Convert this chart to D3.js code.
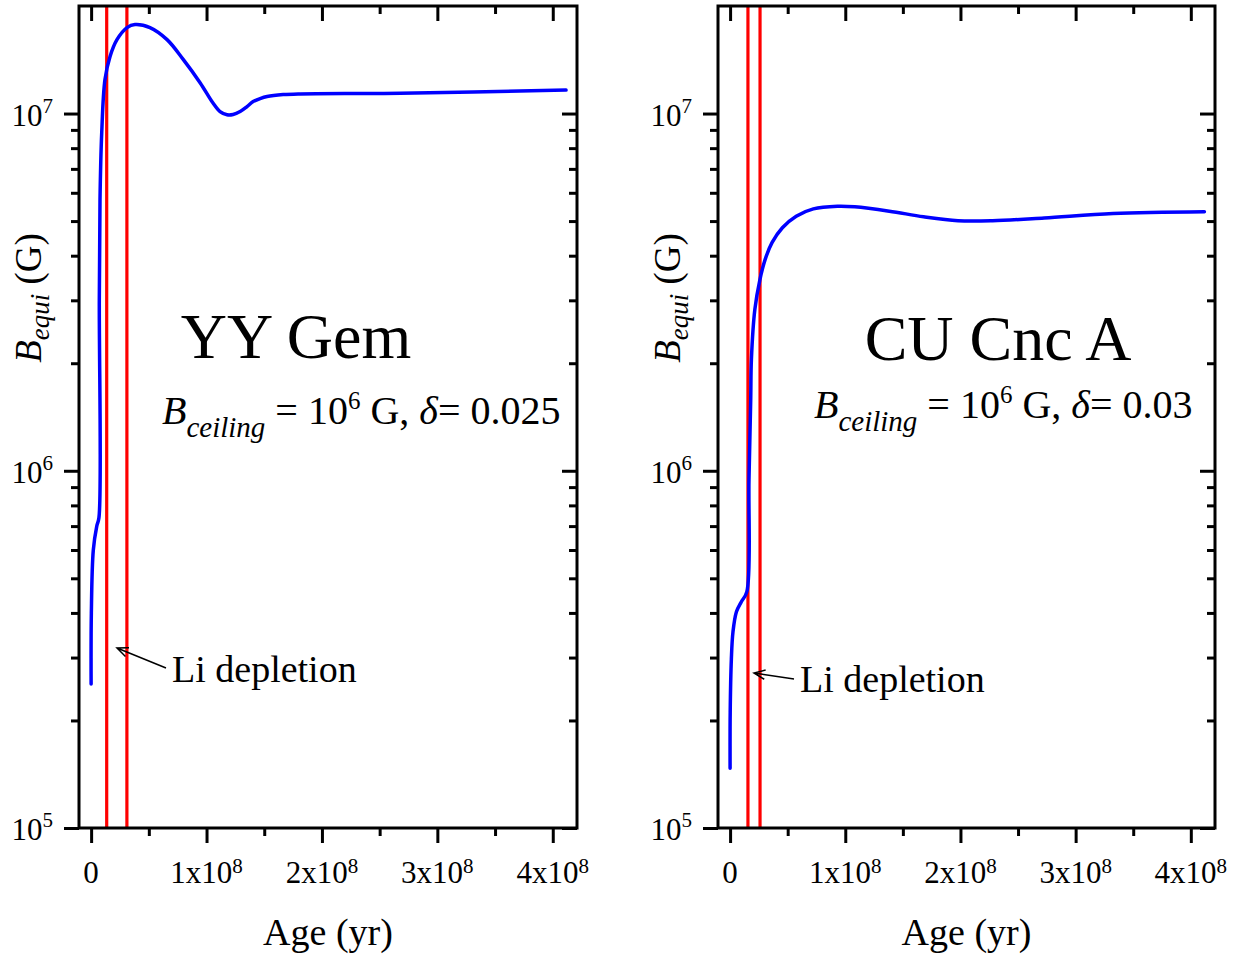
<!DOCTYPE html>
<html>
<head>
<meta charset="utf-8">
<script src="https://cdn.jsdelivr.net/npm/d3@7"></script>
<style>
  body { margin: 0; background: #fff; }
  svg { display: block; }
  text { font-family: "Liberation Serif", "Times New Roman", serif; fill: #000; }
</style>
</head>
<body>
<div id="graf"></div>
<script>
// datos (edad en años, campo en G)
const yyGemAge = [0, 2e5, 1.9e6, 4.9e6, 6.8e6, 7.1e6, 7.7e6, 9.2e6, 1.2e7, 1.64e7, 2.24e7, 3.11e7, 3.8e7, 5.1e7, 6.58e7, 7.96e7, 9.44e7, 1.056e8, 1.117e8, 1.178e8, 1.23e8, 1.291e8, 1.351e8, 1.404e8, 1.464e8, 1.525e8, 1.664e8, 1.811e8, 2.68e8, 4.115e8];
const yyGemB = [2.53e5, 4.0e5, 6.0e5, 7.0e5, 7.4e5, 3.0e6, 5.74e6, 8.85e6, 1.245e7, 1.445e7, 1.61e7, 1.74e7, 1.775e7, 1.74e7, 1.61e7, 1.42e7, 1.22e7, 1.07e7, 1.013e7, 9.92e6, 9.94e6, 1.013e7, 1.046e7, 1.08e7, 1.101e7, 1.116e7, 1.13e7, 1.135e7, 1.14e7, 1.163e7];
const yyGemLi = [1.35e7, 3.1e7];

const cuCncAge = [0, 1e5, 1.1e6, 2.5e6, 5.5e6, 9.8e6, 1.45e7, 1.64e7, 1.79e7, 1.85e7, 2.15e7, 2.59e7, 3.04e7, 3.64e7, 4.54e7, 5.74e7, 7.23e7, 9.32e7, 1.082e8, 1.382e8, 1.68e8, 1.979e8, 2.278e8, 2.727e8, 3.325e8, 4.118e8];
const cuCncB = [1.47e5, 2.11e5, 2.97e5, 3.54e5, 4.03e5, 4.3e5, 4.58e5, 9.44e5, 1.58e6, 2.05e6, 2.83e6, 3.43e6, 3.9e6, 4.35e6, 4.79e6, 5.16e6, 5.41e6, 5.5e6, 5.48e6, 5.33e6, 5.14e6, 5.01e6, 5.01e6, 5.1e6, 5.25e6, 5.31e6];
const cuCncLi = [1.55e7, 2.6e7];

// ejes
const ageDomain = [-1.05e7, 4.21e8];
const bDomain = [1e5, 2e7];
const xTickValues = [0, 1e8, 2e8, 3e8, 4e8];
const xTickBase = ["0", "1x10", "2x10", "3x10", "4x10"];
const xTickExp = ["", "8", "8", "8", "8"];
const xMinorTicks = [5e7, 1.5e8, 2.5e8, 3.5e8];
const yTickValues = [1e5, 1e6, 1e7];
const yTickExp = ["5", "6", "7"];

const stars = ["YY Gem", "CU Cnc A"];
const deltas = ["0.025", "0.03"];

// paneles (posiciones en pixeles)
const panels = [
  { left: 79, right: 577, age: yyGemAge, b: yyGemB, li: yyGemLi, name: stars[0], delta: deltas[0],
    title: [296, 358], param: [162, 424], liText: [172, 682], arrow: [166, 668, 117, 648] },
  { left: 718, right: 1215, age: cuCncAge, b: cuCncB, li: cuCncLi, name: stars[1], delta: deltas[1],
    title: [998, 360], param: [814, 418], liText: [800, 692], arrow: [794, 679, 754, 673] }
];

const plotTop = 6, plotBottom = 828;

const svg = d3.select("#graf")
  .append("svg")
  .attr("width", 1239)
  .attr("height", 955);

function drawPanel(p) {
  const x = d3.scaleLinear().domain(ageDomain).range([p.left, p.right]);
  const y = d3.scaleLog().domain(bDomain).range([plotBottom, plotTop]);
  const g = svg.append("g");

  // ticks
  const tickStyle = (sel) => {
    sel.select(".domain").remove();
    sel.selectAll("line").attr("stroke", "#000").attr("stroke-width", 3);
    sel.selectAll("text").remove();
  };
  const yMinor = y.ticks().filter(v => !yTickValues.includes(v) && v < bDomain[1]);

  g.append("g").attr("transform", `translate(0,${plotBottom})`)
    .call(d3.axisBottom(x).tickValues(xTickValues).tickSize(15)).call(tickStyle);
  g.append("g").attr("transform", `translate(0,${plotBottom})`)
    .call(d3.axisBottom(x).tickValues(xMinorTicks).tickSize(8)).call(tickStyle);
  g.append("g").attr("transform", `translate(0,${plotTop})`)
    .call(d3.axisBottom(x).tickValues(xTickValues).tickSize(15)).call(tickStyle);
  g.append("g").attr("transform", `translate(0,${plotTop})`)
    .call(d3.axisBottom(x).tickValues(xMinorTicks).tickSize(8)).call(tickStyle);
  g.append("g").attr("transform", `translate(${p.left},0)`)
    .call(d3.axisLeft(y).tickValues(yTickValues).tickSize(15)).call(tickStyle);
  g.append("g").attr("transform", `translate(${p.left},0)`)
    .call(d3.axisLeft(y).tickValues(yMinor).tickSize(8)).call(tickStyle);
  g.append("g").attr("transform", `translate(${p.right},0)`)
    .call(d3.axisLeft(y).tickValues(yTickValues).tickSize(15)).call(tickStyle);
  g.append("g").attr("transform", `translate(${p.right},0)`)
    .call(d3.axisLeft(y).tickValues(yMinor).tickSize(8)).call(tickStyle);

  // etiquetas eje x
  xTickValues.forEach((v, i) => {
    const t = g.append("text")
      .attr("x", x(v)).attr("y", 883)
      .attr("text-anchor", "middle")
      .attr("font-size", 31);
    t.append("tspan").text(xTickBase[i]);
    if (xTickExp[i]) t.append("tspan").attr("font-size", 21).attr("dy", -10).text(xTickExp[i]);
  });

  // etiquetas eje y
  yTickValues.forEach((v, i) => {
    const t = g.append("text")
      .attr("x", p.left - 26).attr("y", y(v) + 12)
      .attr("text-anchor", "end")
      .attr("font-size", 31);
    t.append("tspan").text("10");
    t.append("tspan").attr("font-size", 21).attr("dy", -13).text(yTickExp[i]);
  });

  // lineas rojas (Li depletion)
  g.selectAll(".li").data(p.li).enter()
    .append("line")
    .attr("x1", d => x(d)).attr("x2", d => x(d))
    .attr("y1", plotTop).attr("y2", plotBottom)
    .attr("stroke", "#ff0000").attr("stroke-width", 3.2);

  // curva
  const line = d3.line()
    .x((d, i) => x(p.age[i]))
    .y((d, i) => y(p.b[i]))
    .curve(d3.curveCatmullRom.alpha(0.5));
  g.append("path")
    .datum(p.b)
    .attr("d", line)
    .attr("fill", "none")
    .attr("stroke", "#0000ff")
    .attr("stroke-width", 3.5)
    .attr("stroke-linejoin", "round")
    .attr("stroke-linecap", "round");

  // marco
  g.append("rect")
    .attr("x", p.left).attr("y", plotTop)
    .attr("width", p.right - p.left).attr("height", plotBottom - plotTop)
    .attr("fill", "none").attr("stroke", "#000").attr("stroke-width", 3);

  // titulos
  g.append("text")
    .attr("x", (p.left + p.right) / 2).attr("y", 945)
    .attr("text-anchor", "middle").attr("font-size", 38)
    .text("Age (yr)");

  const yl = g.append("text")
    .attr("transform", `translate(${p.left - 38},298) rotate(-90)`)
    .attr("text-anchor", "middle").attr("font-size", 37);
  yl.append("tspan").attr("font-style", "italic").text("B");
  yl.append("tspan").attr("font-style", "italic").attr("font-size", 27).attr("dy", 8).text("equi");
  yl.append("tspan").attr("dy", -8).text(" (G)");

  g.append("text")
    .attr("x", p.title[0]).attr("y", p.title[1])
    .attr("text-anchor", "middle").attr("font-size", 64)
    .text(p.name);

  const pt = g.append("text")
    .attr("x", p.param[0]).attr("y", p.param[1])
    .attr("font-size", 40);
  pt.append("tspan").attr("font-style", "italic").text("B");
  pt.append("tspan").attr("font-style", "italic").attr("font-size", 29).attr("dy", 13).text("ceiling");
  pt.append("tspan").attr("dy", -13).text(" = 10");
  pt.append("tspan").attr("font-size", 25).attr("dy", -15).text("6");
  pt.append("tspan").attr("dy", 15).text(" G, ");
  pt.append("tspan").attr("font-style", "italic").text("δ");
  pt.append("tspan").text("= " + p.delta);

  // flecha Li depletion
  const [ax1, ay1, ax2, ay2] = p.arrow;
  const ang = Math.atan2(ay1 - ay2, ax1 - ax2);
  const head = 12, spread = 0.4;
  g.append("path")
    .attr("d", `M${ax1},${ay1}L${ax2},${ay2}` +
      `M${ax2 + head * Math.cos(ang - spread)},${ay2 + head * Math.sin(ang - spread)}L${ax2},${ay2}` +
      `L${ax2 + head * Math.cos(ang + spread)},${ay2 + head * Math.sin(ang + spread)}`)
    .attr("fill", "none").attr("stroke", "#000").attr("stroke-width", 1.5);
  g.append("text")
    .attr("x", p.liText[0]).attr("y", p.liText[1])
    .attr("font-size", 38)
    .text("Li depletion");
}

panels.forEach(drawPanel);
</script>
</body>
</html>
